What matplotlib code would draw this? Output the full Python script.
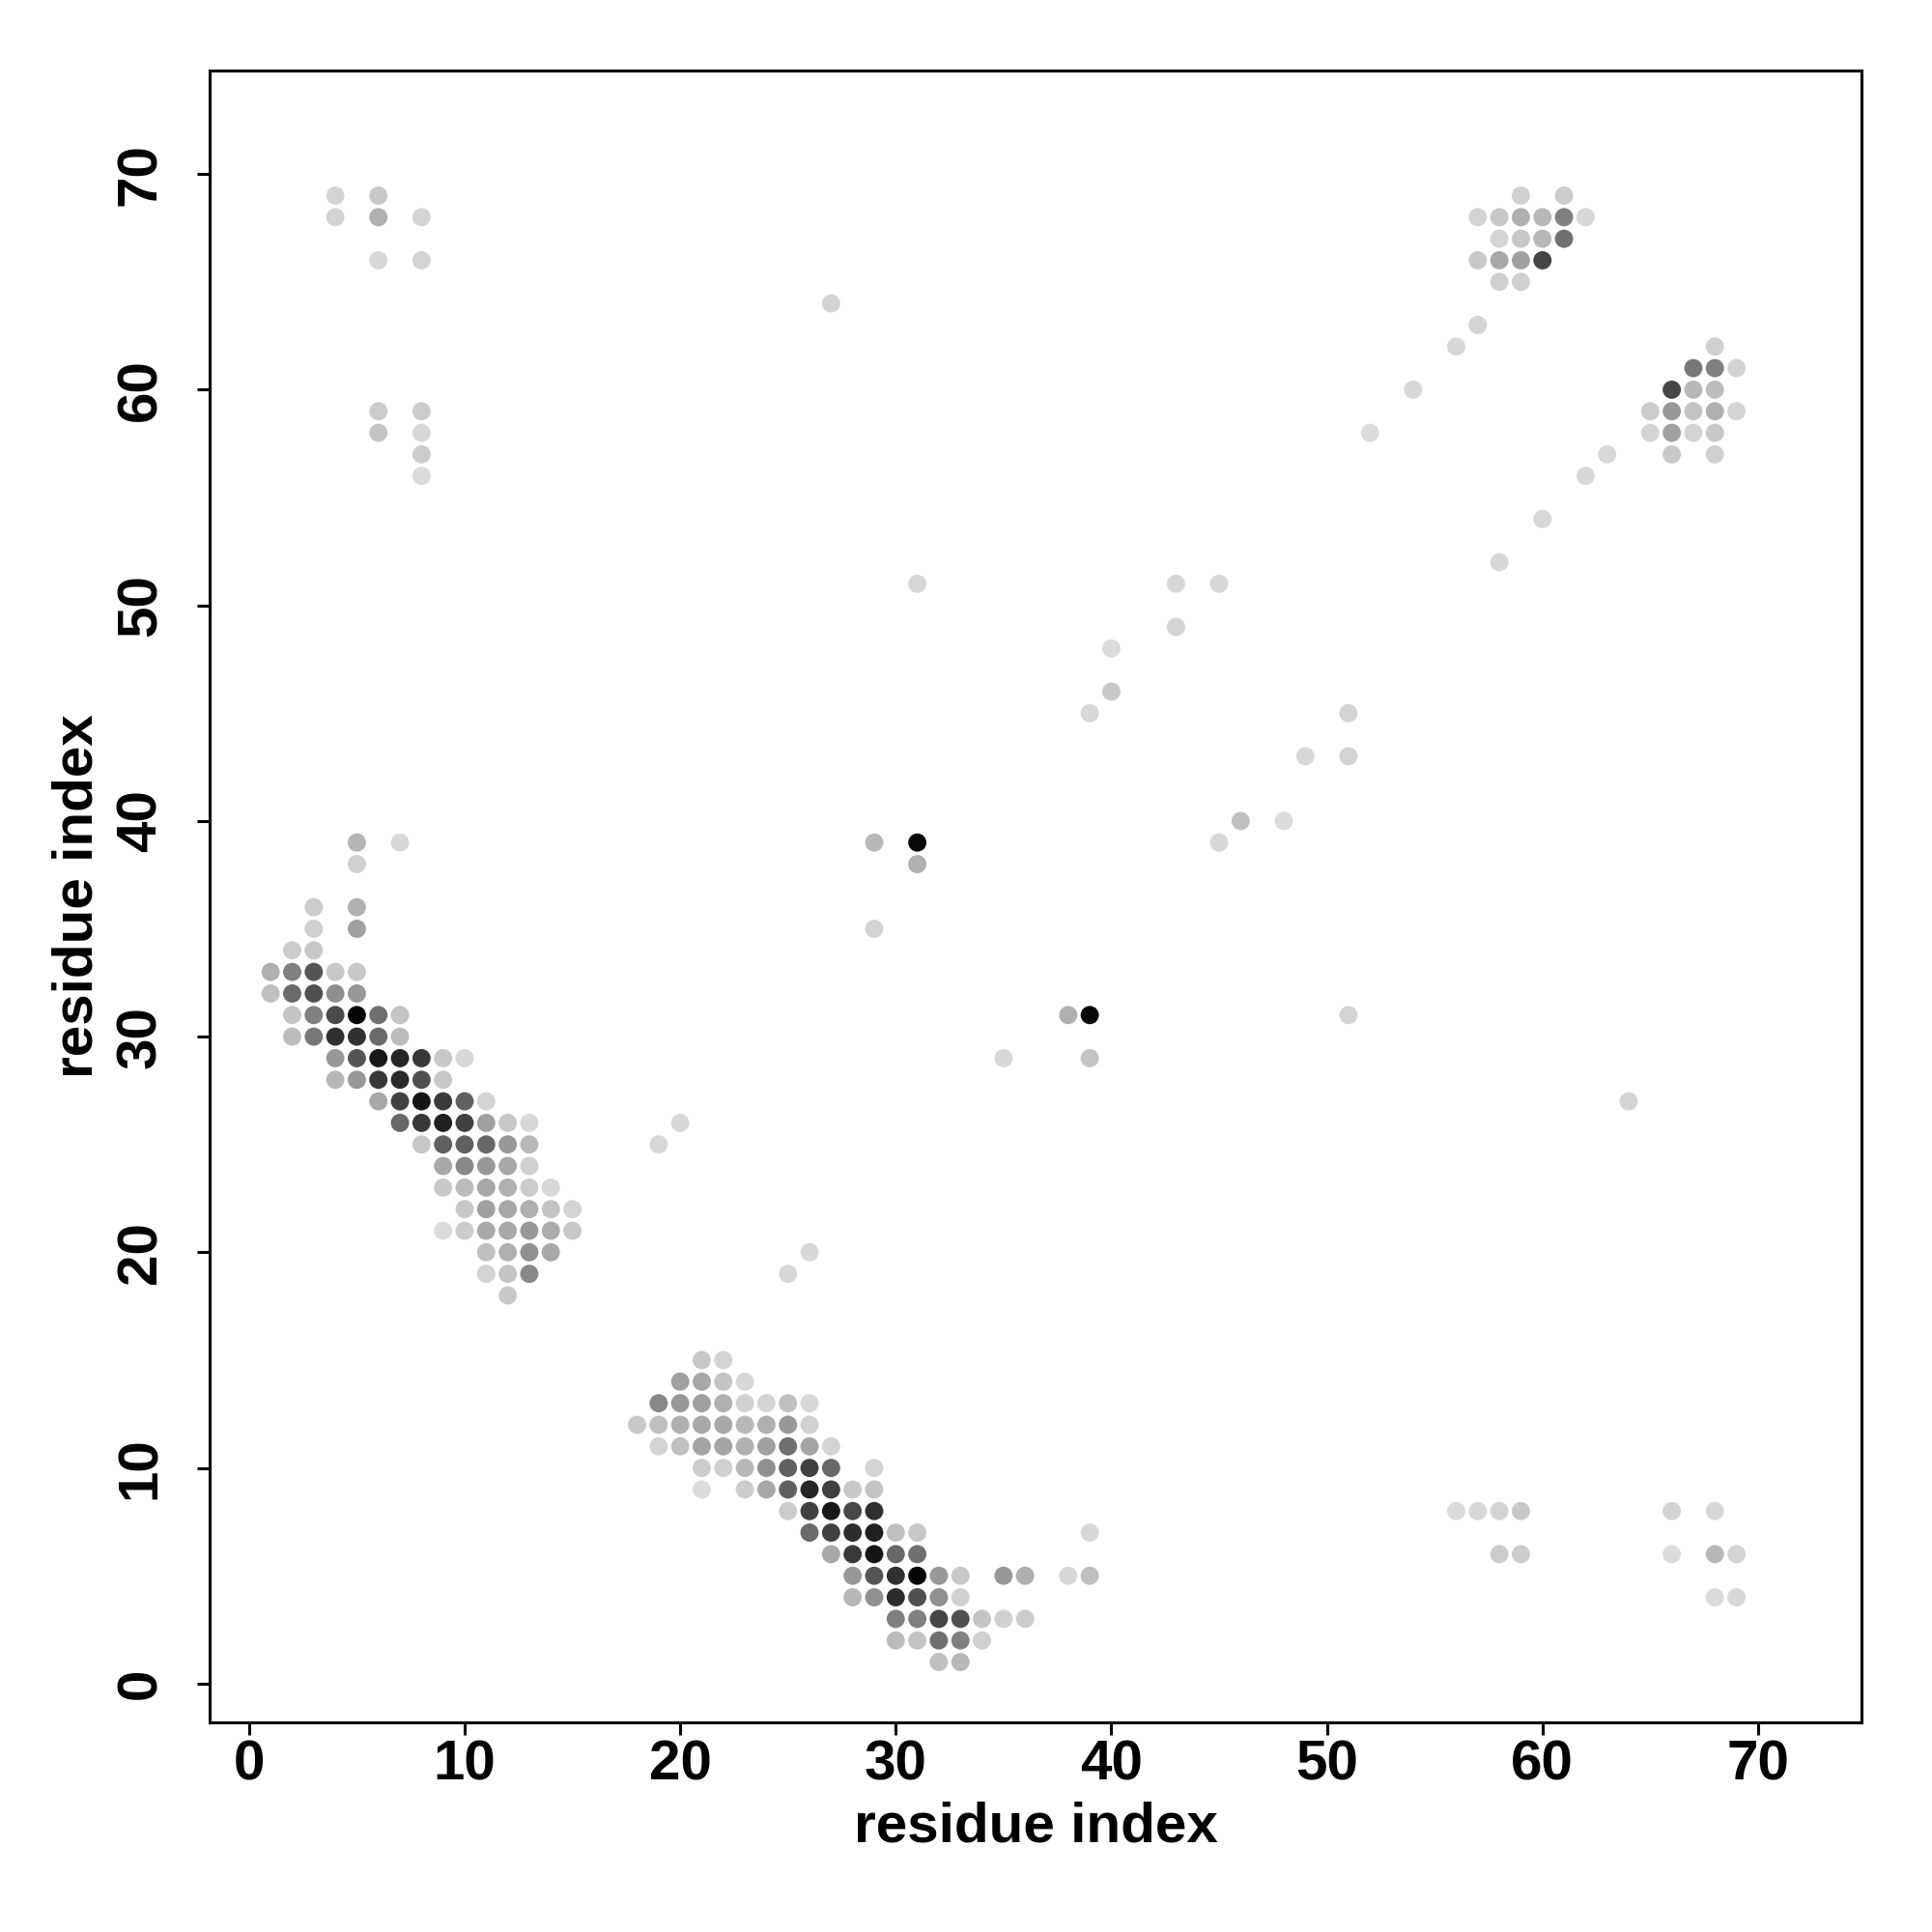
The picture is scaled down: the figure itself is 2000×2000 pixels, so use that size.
import matplotlib
matplotlib.use("Agg")
import matplotlib.pyplot as plt
import numpy as np

# ---- data: contact map points (residue i, residue j, grey shade 0=black .. 255=white)
# band 1 (residues 1-15 vs 18-39)
band1_x = [5, 7,
           5,
           3, 5,
           3, 5,
           2, 3,
           1, 2, 3, 4, 5,
           1, 2, 3, 4, 5,
           2, 3, 4, 5, 6, 7,
           2, 3, 4, 5, 6, 7,
           4, 5, 6, 7, 8, 9, 10,
           4, 5, 6, 7, 8, 9,
           6, 7, 8, 9, 10, 11,
           7, 8, 9, 10, 11, 12, 13,
           8, 9, 10, 11, 12, 13,
           9, 10, 11, 12, 13,
           9, 10, 11, 12, 13, 14,
           10, 11, 12, 13, 14, 15,
           9, 10, 11, 12, 13, 14, 15,
           11, 12, 13, 14,
           11, 12, 13,
           12]
band1_y = [39, 39,
           38,
           36, 36,
           35, 35,
           34, 34,
           33, 33, 33, 33, 33,
           32, 32, 32, 32, 32,
           31, 31, 31, 31, 31, 31,
           30, 30, 30, 30, 30, 30,
           29, 29, 29, 29, 29, 29, 29,
           28, 28, 28, 28, 28, 28,
           27, 27, 27, 27, 27, 27,
           26, 26, 26, 26, 26, 26, 26,
           25, 25, 25, 25, 25, 25,
           24, 24, 24, 24, 24,
           23, 23, 23, 23, 23, 23,
           22, 22, 22, 22, 22, 22,
           21, 21, 21, 21, 21, 21, 21,
           20, 20, 20, 20,
           19, 19, 19,
           18]
band1_shade = [181, 216,
               208,
               204, 176,
               208, 160,
               204, 200,
               176, 128, 85, 200, 200,
               192, 106, 80, 144, 152,
               196, 128, 74, 5, 112, 196,
               188, 120, 48, 48, 106, 188,
               152, 85, 24, 37, 56, 200, 216,
               184, 152, 56, 42, 80, 200,
               168, 64, 21, 58, 96, 212,
               104, 56, 32, 64, 160, 200, 216,
               200, 96, 96, 104, 152, 184,
               168, 136, 152, 168, 208,
               200, 188, 168, 176, 204, 216,
               200, 160, 168, 176, 196, 212,
               220, 204, 168, 168, 152, 172, 200,
               192, 176, 144, 168,
               212, 196, 136,
               200]

# band 2 (residues 18-36 vs 1-15)
band2_x = [21, 22,
           20, 21, 22, 23,
           19, 20, 21, 22, 23, 24, 25, 26,
           18, 19, 20, 21, 22, 23, 24, 25, 26,
           19, 20, 21, 22, 23, 24, 25, 26, 27,
           21, 22, 23, 24, 25, 26, 27, 29,
           21, 23, 24, 25, 26, 27, 28, 29,
           25, 26, 27, 28, 29,
           26, 27, 28, 29, 30, 31,
           27, 28, 29, 30, 31,
           28, 29, 30, 31, 32, 33, 35, 36,
           28, 29, 30, 31, 32, 33,
           30, 31, 32, 33, 34, 35, 36,
           30, 31, 32, 33, 34,
           32, 33]
band2_y = [15, 15,
           14, 14, 14, 14,
           13, 13, 13, 13, 13, 13, 13, 13,
           12, 12, 12, 12, 12, 12, 12, 12, 12,
           11, 11, 11, 11, 11, 11, 11, 11, 11,
           10, 10, 10, 10, 10, 10, 10, 10,
           9, 9, 9, 9, 9, 9, 9, 9,
           8, 8, 8, 8, 8,
           7, 7, 7, 7, 7, 7,
           6, 6, 6, 6, 6,
           5, 5, 5, 5, 5, 5, 5, 5,
           4, 4, 4, 4, 4, 4,
           3, 3, 3, 3, 3, 3, 3,
           2, 2, 2, 2, 2,
           1, 1]
band2_shade = [200, 212,
               160, 168, 196, 216,
               136, 152, 160, 176, 208, 212, 192, 216,
               200, 192, 176, 168, 168, 184, 176, 152, 208,
               212, 192, 164, 164, 176, 160, 112, 164, 212,
               204, 208, 184, 144, 96, 64, 104, 212,
               220, 204, 168, 96, 37, 64, 200, 196,
               204, 64, 24, 72, 48,
               106, 64, 44, 32, 192, 200,
               168, 58, 21, 104, 112,
               152, 85, 48, 5, 152, 200, 152, 176,
               184, 144, 44, 80, 144, 208,
               128, 128, 69, 80, 196, 208, 204,
               188, 196, 112, 128, 208,
               192, 184]

# cluster top right (56-62 vs 62-69)
tr_x = [59, 61,
        57, 58, 59, 60, 61, 62,
        58, 59, 60, 61,
        57, 58, 59, 60,
        58, 59,
        57, 56]
tr_y = [69, 69,
        68, 68, 68, 68, 68, 68,
        67, 67, 67, 67,
        66, 66, 66, 66,
        65, 65,
        63, 62]
tr_shade = [208, 204,
            212, 200, 176, 184, 128, 216,
            212, 200, 184, 112,
            200, 168, 160, 69,
            208, 208,
            212, 216]

# cluster (65-69 vs 57-62)
cr_x = [68,
        67, 68, 69,
        66, 67, 68,
        65, 66, 67, 68, 69,
        65, 66, 67, 68,
        66, 68]
cr_y = [62,
        61, 61, 61,
        60, 60, 60,
        59, 59, 59, 59, 59,
        58, 58, 58, 58,
        57, 57]
cr_shade = [208,
            120, 128, 212,
            69, 184, 188,
            204, 152, 196, 176, 212,
            212, 160, 212, 200,
            200, 208]

# top-left cluster (4-8 vs 56-69)
tl_x = [4, 6, 4, 6, 8, 6, 8, 6, 8, 6, 8, 8, 8]
tl_y = [69, 69, 68, 68, 68, 66, 66, 59, 59, 58, 58, 57, 56]
tl_shade = [212, 200, 212, 176, 212, 216, 212, 204, 204, 196, 216, 204, 220]

# bottom-right cluster (56-69 vs 4-8)
br_x = [56, 57, 58, 59, 58, 59, 66, 68, 66, 68, 69, 68, 69]
br_y = [8, 8, 8, 8, 6, 6, 8, 8, 6, 6, 6, 4, 4]
br_shade = [220, 216, 212, 200, 204, 204, 212, 216, 220, 184, 212, 220, 216]

# scattered contacts
sc_x = [27, 31, 43, 45, 43, 40, 39, 40, 51, 51, 49, 45, 46, 48,
        29, 31, 31, 29, 38, 39, 39, 35, 51, 64, 19, 20, 25, 26,
        52, 54, 58, 60, 62, 63, 38, 39, 39]
sc_y = [64, 51, 51, 51, 49, 48, 45, 46, 45, 43, 43, 39, 40, 40,
        39, 39, 38, 35, 31, 31, 29, 29, 31, 27, 25, 26, 19, 20,
        58, 60, 52, 54, 56, 57, 5, 5, 7]
sc_shade = [212, 216, 216, 216, 212, 220, 216, 200, 212, 212, 216, 216, 192, 220,
            184, 8, 176, 212, 176, 5, 196, 216, 212, 212, 216, 216, 216, 216,
            220, 216, 216, 216, 216, 216, 216, 192, 216]

res_i = np.array(band1_x + band2_x + tr_x + cr_x + tl_x + br_x + sc_x)
res_j = np.array(band1_y + band2_y + tr_y + cr_y + tl_y + br_y + sc_y)
shade = np.array(band1_shade + band2_shade + tr_shade + cr_shade + tl_shade + br_shade + sc_shade)

x_ticks = [0, 10, 20, 30, 40, 50, 60, 70]
y_ticks = [0, 10, 20, 30, 40, 50, 60, 70]
axis_label = "residue index"

# ---- figure
plt.rcParams['font.family'] = ['Liberation Sans', 'DejaVu Sans']
plt.rcParams['font.weight'] = 'bold'

fig = plt.figure(figsize=(20, 20), dpi=100)
ax = fig.add_axes([0.1085, 0.1085, 0.855, 0.855])

colors = [(s / 255.0,) * 3 for s in shade]
order = np.argsort(-shade)  # draw darker on top
ax.scatter(res_i[order], res_j[order], s=185, c=[colors[k] for k in order],
           edgecolors='none', zorder=3)

ax.set_xlim(-1.83, 74.8)
ax.set_ylim(-1.8, 74.8)
ax.set_xticks(x_ticks)
ax.set_yticks(y_ticks)
ax.set_xticklabels([str(t) for t in x_ticks])
ax.set_yticklabels([str(t) for t in y_ticks])

for sp in ax.spines.values():
    sp.set_linewidth(2.2)
ax.tick_params(axis='both', which='major', length=9.5, width=2.2,
               labelsize=42, direction='out')
ax.tick_params(axis='x', pad=3)
ax.tick_params(axis='y', pad=22)
for lab in ax.get_yticklabels():
    lab.set_rotation(90)
    lab.set_va('center')
    lab.set_ha('right')
for lab in ax.get_xticklabels() + ax.get_yticklabels():
    lab.set_fontweight('bold')

ax.set_xlabel(axis_label, fontsize=42, fontweight='bold')
ax.set_ylabel(axis_label, fontsize=42, fontweight='bold')
ax.xaxis.label.set_va('center')
ax.yaxis.label.set_va('center')
ax.yaxis.label.set_rotation_mode('anchor')
ax.xaxis.set_label_coords(0.5, -0.0637)
ax.yaxis.set_label_coords(-0.080, 0.5)

fig.savefig("out.png", dpi=100, facecolor='white')
